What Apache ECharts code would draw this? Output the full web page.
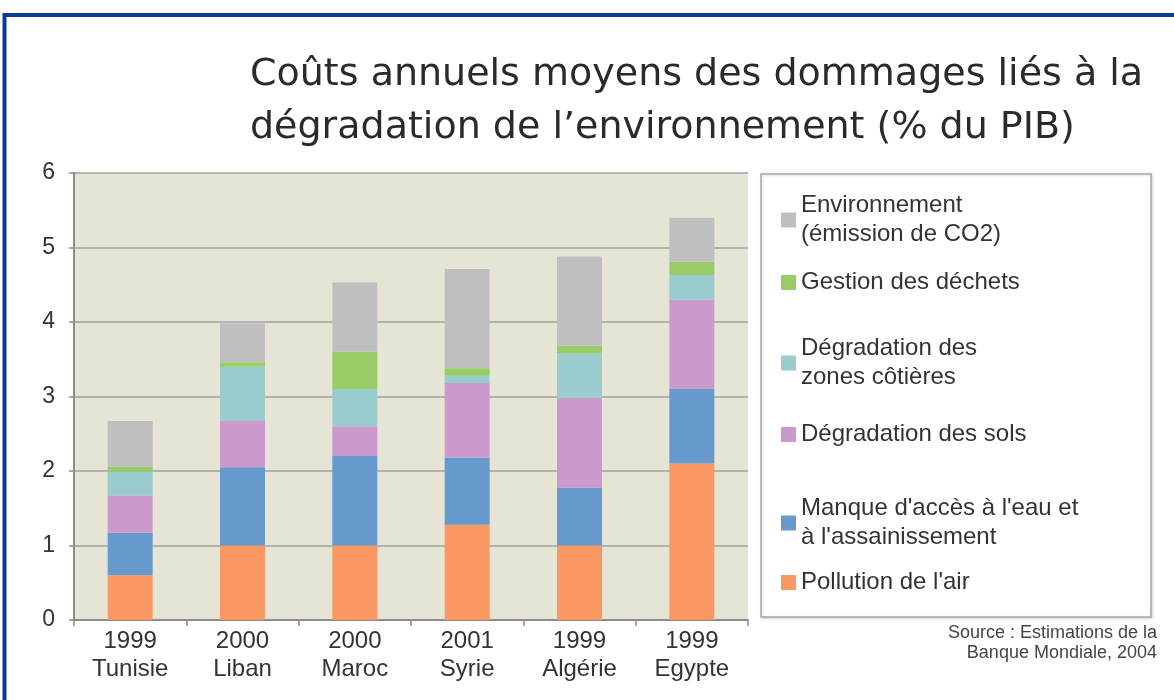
<!DOCTYPE html>
<html>
<head>
<meta charset="utf-8">
<script src="https://cdn.jsdelivr.net/npm/echarts@6/dist/echarts.min.js"></script>
<style>
  html, body { margin: 0; padding: 0; background: #fff; }
  #main { width: 1174px; height: 700px; }
</style>
</head>
<body>
<div id="main"></div>
<script>
// pays / années
var years = ["1999", "2000", "2000", "2001", "1999", "1999"];
var countries = ["Tunisie", "Liban", "Maroc", "Syrie", "Algérie", "Egypte"];
var yTicks = [0, 1, 2, 3, 4, 5, 6];

// coûts (% du PIB), du bas vers le haut de la pile
var pollutionAir = [0.6, 1.0, 1.0, 1.28, 1.0, 2.1];
var manqueEau = [0.57, 1.05, 1.2, 0.9, 0.78, 1.0];
var degradSols = [0.5, 0.62, 0.4, 1.0, 1.2, 1.2];
var zonesCotieres = [0.32, 0.73, 0.5, 0.1, 0.6, 0.33];
var gestionDechets = [0.07, 0.06, 0.5, 0.1, 0.1, 0.18];
var emissionCO2 = [0.61, 0.52, 0.93, 1.33, 1.2, 0.59];

var sourceLines = ["Source : Estimations de la", "Banque Mondiale, 2004"];

var seriesDefs = [
    {name: "Pollution de l'air", data: pollutionAir, color: "#f99862", label: "Pollution de l'air", legendTop: 568},
    {name: "Manque d'accès à l'eau", data: manqueEau, color: "#6699cc", label: "Manque d'accès à l'eau et\nà l'assainissement", legendTop: 494},
    {name: "Dégradation des sols", data: degradSols, color: "#cc99cc", label: "Dégradation des sols", legendTop: 420},
    {name: "Dégradation des zones côtières", data: zonesCotieres, color: "#99cccc", label: "Dégradation des\nzones côtières", legendTop: 334},
    {name: "Gestion des déchets", data: gestionDechets, color: "#99cc66", label: "Gestion des déchets", legendTop: 268},
    {name: "Environnement", data: emissionCO2, color: "#bfbfbf", label: "Environnement\n(émission de CO2)", legendTop: 191}
];

var font = "'Liberation Sans', Arial, sans-serif";
var titleFont = "'DejaVu Sans', Verdana, sans-serif";
var categories = years.map(function (y, i) { return y + "\n" + countries[i]; });

var chart = echarts.init(document.getElementById("main"));

var legends = seriesDefs.map(function (s) {
    return {
        data: [s.name],
        left: 781,
        top: s.legendTop,
        padding: 0,
        orient: "vertical",
        icon: "rect",
        itemWidth: 15,
        itemHeight: 15,
        selectedMode: false,
        formatter: function () { return s.label; },
        textStyle: {fontFamily: font, fontSize: 24, lineHeight: 29, color: "#333"}
    };
});

var series = seriesDefs.map(function (s) {
    return {
        name: s.name,
        type: "bar",
        stack: "total",
        barWidth: 45,
        data: s.data,
        itemStyle: {color: s.color},
        emphasis: {disabled: true}
    };
});

var graphics = [
    {   // cadre bleu
        type: "rect",
        shape: {x: 4.5, y: 15, width: 1300, height: 800},
        style: {fill: null, stroke: "#0a3a9a", lineWidth: 4},
        z: 10
    },
    {   // cadre de la légende
        type: "rect",
        shape: {x: 761, y: 174, width: 390, height: 443},
        style: {fill: "#ffffff", stroke: "#a6a6a6", lineWidth: 1.5, shadowColor: "rgba(0,0,0,0.15)", shadowBlur: 3, shadowOffsetX: 1, shadowOffsetY: 1},
        z: -1
    }
];
sourceLines.forEach(function (line, i) {
    graphics.push({
        type: "text",
        right: 17,
        top: 624 + i * 20,
        style: {text: line, fontFamily: font, fontSize: 18, fill: "#444"}
    });
});

var option = {
    backgroundColor: "#ffffff",
    animation: false,
    color: seriesDefs.map(function (s) { return s.color; }),
    title: {
        text: "Coûts annuels moyens des dommages liés à la\ndégradation de l’environnement (% du PIB)",
        left: 250,
        top: 49,
        padding: 0,
        textStyle: {fontFamily: titleFont, fontSize: 38, fontWeight: "normal", lineHeight: 53, color: "#2a2a2a"}
    },
    legend: legends,
    grid: {
        left: 74, right: 426, top: 173, bottom: 80,
        show: true, backgroundColor: "#e6e5d5", borderWidth: 0
    },
    xAxis: {
        type: "category",
        data: categories,
        axisLine: {lineStyle: {color: "#8c8c8c", width: 2}},
        axisTick: {show: true, length: 6, lineStyle: {color: "#8c8c8c", width: 1.5}},
        axisLabel: {fontFamily: font, fontSize: 24, lineHeight: 28, color: "#333", margin: 7}
    },
    yAxis: {
        type: "value",
        min: 0,
        max: 6,
        interval: 1,
        axisLine: {show: true, lineStyle: {color: "#8c8c8c", width: 2}},
        axisTick: {show: true, length: 5, lineStyle: {color: "#8c8c8c", width: 1.5}},
        axisLabel: {fontFamily: font, fontSize: 23, color: "#333", margin: 19,
            formatter: function (v) { return yTicks.indexOf(v) > -1 ? String(v) : ""; }},
        splitLine: {lineStyle: {color: "#a0a0a0", width: 1.5}}
    },
    graphic: graphics,
    series: series
};

chart.setOption(option);
</script>
</body>
</html>
